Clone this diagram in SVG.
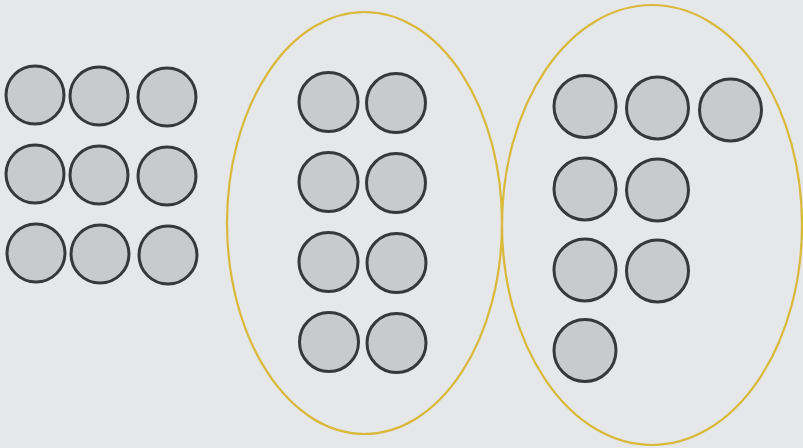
<svg xmlns="http://www.w3.org/2000/svg" width="803" height="448" viewBox="0 0 803 448">
<style>
.dot{fill:#c9cacc;stroke:#383838;stroke-width:3}
.ring{fill:none;stroke:#d9b83a;stroke-width:2.2}
</style>
<rect width="803" height="448" fill="#e5e7e9"/>
<g id="group-left">
<circle class="dot" cx="35" cy="95" r="29"/>
<circle class="dot" cx="99" cy="96" r="29"/>
<circle class="dot" cx="167" cy="97" r="29"/>
<circle class="dot" cx="35" cy="174" r="29"/>
<circle class="dot" cx="99" cy="175" r="29"/>
<circle class="dot" cx="167" cy="176" r="29"/>
<circle class="dot" cx="36" cy="253" r="29"/>
<circle class="dot" cx="100" cy="254" r="29"/>
<circle class="dot" cx="168" cy="255" r="29"/>
</g>
<g id="group-middle">
<ellipse class="ring" cx="364.5" cy="223" rx="137.5" ry="211"/>
<circle class="dot" cx="328.5" cy="102" r="29.5"/>
<circle class="dot" cx="396" cy="103" r="29.5"/>
<circle class="dot" cx="328.5" cy="182" r="29.5"/>
<circle class="dot" cx="396" cy="183" r="29.5"/>
<circle class="dot" cx="328.5" cy="262" r="29.5"/>
<circle class="dot" cx="396.5" cy="263" r="29.5"/>
<circle class="dot" cx="329" cy="342" r="29.5"/>
<circle class="dot" cx="396.5" cy="343" r="29.5"/>
</g>
<g id="group-right">
<ellipse class="ring" cx="652" cy="225" rx="150" ry="220"/>
<circle class="dot" cx="585" cy="106.5" r="31"/>
<circle class="dot" cx="657.5" cy="108" r="31"/>
<circle class="dot" cx="730.5" cy="110" r="31"/>
<circle class="dot" cx="585" cy="189" r="31"/>
<circle class="dot" cx="657.5" cy="190" r="31"/>
<circle class="dot" cx="585" cy="270" r="31"/>
<circle class="dot" cx="657.5" cy="271" r="31"/>
<circle class="dot" cx="585" cy="350.5" r="31"/>
</g>
<g id="connectors"/>
</svg>
